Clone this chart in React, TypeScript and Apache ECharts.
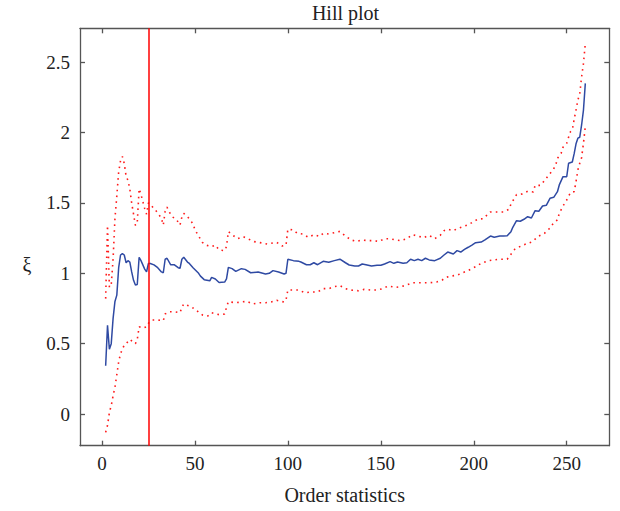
import React, { useEffect, useRef } from "react";
import * as echarts from "echarts";

const titleText = "Hill plot";
const xAxisName = "Order statistics";
const yAxisName = "ξ";
const xTicks = [0, 50, 100, 150, 200, 250];
const yTicks = [0, 0.5, 1, 1.5, 2, 2.5];
const thresholdK = 25;

const hillK = [2,3,4,5,6,7,8,9,10,11,12,13,14,15,16,17,18,19,20,21,22,23,24,25,26,28,30,32,33,34,35,37,39,41,42,43,44,46,47,49,52,53,55,58,59,61,63,66,67,68,70,72,75,77,80,84,88,90,92,95,98,99,100,103,106,107,110,112,114,116,119,122,125,128,131,133,136,138,140,142,145,148,150,152,155,157,159,162,164,166,168,170,172,174,176,179,182,184,186,189,191,193,195,197,199,201,204,206,209,211,214,216,218,220,221,223,225,227,229,231,233,235,237,239,241,243,245,246,248,250,251,253,254,255,256,257,258,259,260];
const hillXi = [0.343,0.63,0.46,0.5,0.68,0.8,0.845,1.04,1.13,1.14,1.13,1.075,1.09,1.08,1.01,0.95,0.917,0.92,1.114,1.09,1.06,1.03,1.01,1.07,1.07,1.06,1.04,1.01,1.004,1.1,1.107,1.06,1.06,1.04,1.036,1.1,1.114,1.08,1.07,1.04,1.0,0.98,0.955,0.947,0.971,0.96,0.935,0.938,0.96,1.042,1.033,1.014,1.033,1.028,1.004,1.009,0.995,1.0,1.019,1.009,0.995,1.0,1.1,1.09,1.085,1.08,1.061,1.061,1.075,1.061,1.085,1.078,1.09,1.1,1.075,1.059,1.052,1.052,1.066,1.061,1.052,1.057,1.057,1.066,1.083,1.071,1.08,1.071,1.075,1.1,1.09,1.1,1.09,1.107,1.095,1.09,1.107,1.13,1.151,1.137,1.161,1.151,1.17,1.185,1.201,1.218,1.222,1.237,1.265,1.256,1.265,1.265,1.267,1.296,1.327,1.374,1.37,1.384,1.402,1.393,1.445,1.441,1.478,1.483,1.533,1.54,1.58,1.628,1.687,1.687,1.782,1.791,1.85,1.92,1.96,1.967,2.054,2.16,2.35];

const upperK = [2,3,4,5,6,7,8,9,10,11,12,13,14,15,16,17,18,19,20,21,22,23,24,25,26,28,30,32,33,34,35,36,38,40,42,43,44,47,49,50,52,54,56,59,61,63,66,67,68,71,73,76,79,82,85,89,91,94,97,99,100,103,105,108,111,114,117,119,122,125,128,131,134,137,140,143,146,149,152,155,158,161,164,167,170,173,176,179,182,184,186,189,192,194,197,199,202,205,209,213,216,219,220,223,226,229,232,233,236,238,240,242,244,245,247,248,250,251,252,253,254,255,256,257,258,259,260];
const upperXi = [0.82,1.34,0.9,0.92,1.1,1.39,1.55,1.72,1.8,1.83,1.78,1.69,1.66,1.6,1.5,1.42,1.34,1.36,1.6,1.56,1.51,1.46,1.42,1.5,1.49,1.46,1.43,1.39,1.343,1.44,1.47,1.44,1.4,1.384,1.343,1.4,1.426,1.388,1.35,1.31,1.265,1.22,1.2,1.19,1.2,1.166,1.161,1.19,1.296,1.265,1.246,1.26,1.242,1.225,1.218,1.208,1.213,1.22,1.194,1.2,1.313,1.308,1.284,1.279,1.256,1.274,1.262,1.284,1.279,1.289,1.298,1.265,1.237,1.227,1.237,1.232,1.232,1.227,1.246,1.246,1.237,1.232,1.246,1.274,1.265,1.253,1.27,1.246,1.27,1.303,1.313,1.303,1.322,1.331,1.345,1.36,1.384,1.388,1.436,1.436,1.436,1.455,1.492,1.559,1.564,1.583,1.578,1.625,1.625,1.658,1.692,1.725,1.763,1.817,1.853,1.896,1.924,1.967,2.006,2.018,2.095,2.16,2.232,2.274,2.397,2.49,2.635];

const lowerK = [2,3,4,5,6,7,8,9,10,11,12,13,15,17,18,19,20,22,24,25,27,30,33,34,36,39,42,43,44,48,51,54,57,59,63,66,67,68,72,75,78,81,85,88,91,94,98,99,100,103,106,109,113,116,119,122,125,128,131,134,138,141,145,148,151,154,158,161,164,167,170,173,176,180,183,185,188,191,194,197,201,204,208,211,214,218,219,222,224,227,231,232,235,238,241,243,245,246,248,250,252,254,255,256,257,258,259,260];
const lowerXi = [-0.13,-0.08,0.01,0.06,0.13,0.19,0.28,0.37,0.43,0.46,0.49,0.5,0.53,0.51,0.5,0.53,0.62,0.61,0.62,0.645,0.668,0.668,0.663,0.711,0.727,0.727,0.72,0.758,0.782,0.763,0.734,0.704,0.697,0.72,0.706,0.711,0.758,0.798,0.791,0.796,0.801,0.782,0.791,0.791,0.796,0.808,0.796,0.81,0.881,0.881,0.881,0.862,0.867,0.867,0.891,0.891,0.905,0.912,0.891,0.881,0.876,0.886,0.881,0.881,0.891,0.91,0.9,0.905,0.917,0.933,0.933,0.933,0.933,0.938,0.952,0.971,0.981,0.986,1.004,1.02,1.047,1.071,1.09,1.095,1.1,1.1,1.118,1.17,1.185,1.203,1.222,1.232,1.265,1.284,1.322,1.36,1.379,1.426,1.478,1.521,1.573,1.58,1.651,1.734,1.782,1.822,1.924,2.042];

const pairs = (ks: number[], vs: number[]) => ks.map((k, i) => [k, vs[i]]);

const FONT = "'Liberation Serif', 'DejaVu Serif', serif";
const AXIS_COLOR = "#555555";
const TEXT_COLOR = "#222222";
const X_MIN = -11.8;
const X_MAX = 272.9;
const Y_MIN = -0.225;
const Y_MAX = 2.741;

export default function App() {
  const ref = useRef<HTMLDivElement>(null);
  useEffect(() => {
    if (!ref.current) return;
    const chart = echarts.init(ref.current, null, { renderer: "svg" });
    const axisLine = { show: true, onZero: false, lineStyle: { color: AXIS_COLOR, width: 1.3 } };
    const tick = (vals: number[]) => ({
      show: true,
      inside: true,
      length: 5,
      customValues: vals,
      lineStyle: { color: AXIS_COLOR, width: 1.3 },
    });
    const dotted = {
      color: "#ff1a1a",
      width: 1.6,
      type: [1.6, 4.2] as number[],
    };
    chart.setOption({
      animation: false,
      backgroundColor: "#ffffff",
      graphic: [
        {
          type: "text",
          x: 345.5,
          y: 12.5,
          style: {
            text: titleText,
            align: "center",
            verticalAlign: "middle",
            fontFamily: FONT,
            fontSize: 20,
            fill: TEXT_COLOR,
          },
        },
        {
          type: "text",
          x: 27,
          y: 265,
          style: {
            text: yAxisName,
            align: "center",
            verticalAlign: "middle",
            fontFamily: FONT,
            fontSize: 20,
            fill: TEXT_COLOR,
          },
        },
      ],
      grid: { left: 80, right: 10.7, top: 28.3, bottom: 65.3, containLabel: false },
      xAxis: [
        {
          type: "value",
          min: X_MIN,
          max: X_MAX,
          position: "bottom",
          name: xAxisName,
          nameLocation: "middle",
          nameGap: 39,
          nameTextStyle: { fontFamily: FONT, fontSize: 20, color: TEXT_COLOR },
          axisLine,
          axisTick: tick(xTicks),
          axisLabel: {
            customValues: xTicks,
            fontFamily: FONT,
            fontSize: 19,
            color: TEXT_COLOR,
            margin: 8,
          },
          splitLine: { show: false },
        },
        {
          type: "value",
          min: X_MIN,
          max: X_MAX,
          position: "top",
          axisLine,
          axisTick: tick(xTicks),
          axisLabel: { show: false },
          splitLine: { show: false },
        },
      ],
      yAxis: [
        {
          type: "value",
          min: Y_MIN,
          max: Y_MAX,
          position: "left",
          axisLine,
          axisTick: tick(yTicks),
          axisLabel: {
            customValues: yTicks,
            fontFamily: FONT,
            fontSize: 19,
            color: TEXT_COLOR,
            margin: 10,
          },
          splitLine: { show: false },
        },
        {
          type: "value",
          min: Y_MIN,
          max: Y_MAX,
          position: "right",
          axisLine,
          axisTick: tick(yTicks),
          axisLabel: { show: false },
          splitLine: { show: false },
        },
      ],
      series: [
        {
          type: "line",
          data: pairs(upperK, upperXi),
          showSymbol: false,
          lineStyle: dotted,
          z: 2,
        },
        {
          type: "line",
          data: pairs(lowerK, lowerXi),
          showSymbol: false,
          lineStyle: dotted,
          z: 2,
        },
        {
          type: "line",
          data: pairs(hillK, hillXi),
          showSymbol: false,
          lineStyle: { color: "#2f4aa3", width: 1.5 },
          z: 3,
          markLine: {
            silent: true,
            symbol: ["none", "none"],
            label: { show: false },
            lineStyle: { color: "#ff0000", width: 1.5, type: "solid" },
            data: [{ xAxis: thresholdK }],
          },
        },
      ],
    });
    return () => chart.dispose();
  }, []);
  return (
    <div
      ref={ref}
      style={{ position: "fixed", left: 0, top: 0, width: 620, height: 511 }}
    />
  );
}
